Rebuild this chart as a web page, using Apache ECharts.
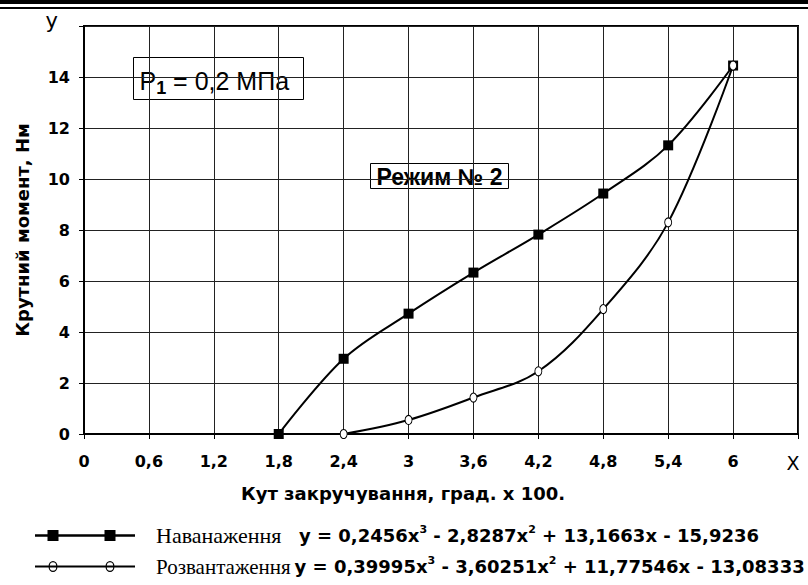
<!DOCTYPE html>
<html>
<head>
<meta charset="utf-8">
<script src="https://cdn.jsdelivr.net/npm/echarts@6/dist/echarts.min.js"></script>
<style>
html,body{margin:0;padding:0;background:#fff;}
#c{width:808px;height:585px;}
</style>
</head>
<body>
<div id="c"></div>
<script>
// ---- data ----
const xLoad = [1.8, 2.4, 3.0, 3.6, 4.2, 4.8, 5.4, 6.0];
const yLoad = [0, 2.95, 4.72, 6.33, 7.82, 9.43, 11.32, 14.45];
const xUnload = [2.4, 3.0, 3.6, 4.2, 4.8, 5.4, 6.0];
const yUnload = [0, 0.55, 1.43, 2.46, 4.9, 8.3, 14.45];
const seriesNames = ['Наванаження', 'Розвантаження'];
const eqLoad = ['y = 0,2456x', '3', ' - 2,8287x', '2', ' + 13,1663x - 15,9236'];
const eqUnload = ['y = 0,39995x', '3', ' - 3,60251x', '2', ' + 11,77546x - 13,08333'];
const xTicks = [0, 0.6, 1.2, 1.8, 2.4, 3, 3.6, 4.2, 4.8, 5.4, 6, 6.6];
const yTicks = [0, 2, 4, 6, 8, 10, 12, 14, 16];
const xAxisTitle = 'Кут закручування, град. х 100.';
const yAxisTitle = 'Крутний момент, Нм';
const noteP = ['P', '1', '= 0,2 МПа'];
const noteMode = 'Режим № 2';

const pair = (xs, ys) => xs.map((x, i) => [x, ys[i]]);
const eqRich = e => `{e|${e[0]}}{s|${e[1]}}{e|${e[2]}}{s|${e[3]}}{e|${e[4]}}`;

// legend icons: line with two markers
const iconLoad = 'path://M0 4.8L100 4.8L100 7.2L0 7.2Z M12.5 0.5L23.5 0.5L23.5 11.5L12.5 11.5Z M69.5 0.5L80.5 0.5L80.5 11.5L69.5 11.5Z';
const ring = cx => `M${cx + 4.5} 6A4.5 5.5 0 1 1 ${cx - 4.5} 6A4.5 5.5 0 1 1 ${cx + 4.5} 6Z M${cx + 3.3} 6A3.3 4.3 0 1 0 ${cx - 3.3} 6A3.3 4.3 0 1 0 ${cx + 3.3} 6Z`;
const iconUnload = 'path://M0 5L100 5L100 7L0 7Z ' + ring(18) + ' ' + ring(75);

const chart = echarts.init(document.getElementById('c'), null, {renderer: 'svg'});
const tickFont = {fontFamily: 'DejaVu Sans', fontWeight: 'bold', fontSize: 16, color: '#000'};

const legendRich = {
  n1: {fontFamily: 'Liberation Serif', fontSize: 22, color: '#000', width: 143, padding: [0, 0, 0, 16]},
  n2: {fontFamily: 'Liberation Serif', fontSize: 21, color: '#000', padding: [0, 4, 0, 16]},
  e: {fontFamily: 'DejaVu Sans', fontWeight: 'bold', fontSize: 18, color: '#000'},
  s: {fontFamily: 'DejaVu Sans', fontWeight: 'bold', fontSize: 11, color: '#000', padding: [0, 0, 12, 0]}
};
const mkLegend = (idx, top, icon, eq) => ({
  orient: 'horizontal', left: 30, top: top,
  itemWidth: 100, itemHeight: 11, icon: icon,
  itemStyle: {color: '#000', borderWidth: 0},
  data: [seriesNames[idx]],
  formatter: n => `{n${idx + 1}|${n}}` + eqRich(eq),
  textStyle: {rich: legendRich}
});

chart.setOption({
  backgroundColor: '#fff',
  animation: false,
  grid: {left: 84, right: 10, top: 26, bottom: 151, show: true, borderColor: '#000', borderWidth: 2},
  xAxis: {
    type: 'value', min: 0, max: 6.6, interval: 0.6,
    axisLine: {show: true, onZero: false, lineStyle: {color: '#000', width: 2}},
    axisTick: {show: true, length: 5, lineStyle: {color: '#000', width: 1}},
    splitLine: {show: true, lineStyle: {color: '#222', width: 1}},
    axisLabel: Object.assign({
      margin: 19,
      formatter: v => Math.abs(v - 6.6) < 1e-6 ? '{b|X}' : String(+v.toFixed(1)).replace('.', ','),
      rich: {b: {fontFamily: 'DejaVu Sans', fontSize: 19, fontWeight: 'normal', color: '#000', padding: [0, 10, 0, 0]}}
    }, tickFont),
    name: xAxisTitle, nameLocation: 'middle', nameGap: 50,
    nameTextStyle: {fontFamily: 'DejaVu Sans', fontWeight: 'bold', fontSize: 18, color: '#000', padding: [0, 76, 0, 0]}
  },
  yAxis: {
    type: 'value', min: 0, max: 16, interval: 2,
    axisLine: {show: true, onZero: false, lineStyle: {color: '#000', width: 2}},
    axisTick: {show: true, length: 5, lineStyle: {color: '#000', width: 1}},
    splitLine: {show: true, lineStyle: {color: '#222', width: 1}},
    axisLabel: Object.assign({
      margin: 14,
      formatter: v => v === 16 ? '{b|y}' : String(v),
      rich: {b: {fontFamily: 'DejaVu Sans', fontSize: 21, fontWeight: 'normal', color: '#000', padding: [0, 12, 10, 0]}}
    }, tickFont),
    name: yAxisTitle, nameLocation: 'middle', nameGap: 53, nameRotate: 90,
    nameTextStyle: {fontFamily: 'DejaVu Sans', fontWeight: 'bold', fontSize: 18, color: '#000'}
  },
  legend: [
    mkLegend(0, 519, iconLoad, eqLoad),
    mkLegend(1, 550, iconUnload, eqUnload)
  ],
  graphic: [
    {type: 'rect', left: 0, top: 0, shape: {width: 808, height: 4}, style: {fill: '#000'}},
    {type: 'rect', left: 0, top: 7, shape: {width: 808, height: 2}, style: {fill: '#000'}},
    {type: 'group', left: 133, top: 57, z: 100, children: [
      {type: 'rect', shape: {x: 0, y: 0, width: 170, height: 42}, style: {fill: '#fff', stroke: '#000', lineWidth: 1}},
      {type: 'text', x: 6, y: 23, style: {
        text: `{a|${noteP[0]}}{s|${noteP[1]}}{a| ${noteP[2]}}`,
        verticalAlign: 'middle',
        rich: {
          a: {fontFamily: 'Liberation Sans', fontSize: 25, color: '#000'},
          s: {fontFamily: 'Liberation Sans', fontWeight: 'bold', fontSize: 18, color: '#000', padding: [14, 0, 0, 0]}
        }
      }}
    ]},
    {type: 'group', left: 370, top: 163, z: 100, children: [
      {type: 'rect', shape: {x: 0, y: 0, width: 138, height: 25}, style: {fill: '#fff', stroke: '#000', lineWidth: 1}},
      {type: 'text', x: 69, y: 13, style: {
        text: noteMode, fontFamily: 'Liberation Sans', fontWeight: 'bold', fontSize: 23, fill: '#000',
        align: 'center', verticalAlign: 'middle'
      }}
    ]}
  ],
  series: [
    {
      name: seriesNames[0], type: 'line', smooth: 0.35, data: pair(xLoad, yLoad),
      symbol: 'rect', symbolSize: 10,
      itemStyle: {color: '#000'},
      lineStyle: {color: '#000', width: 2}, z: 3
    },
    {
      name: seriesNames[1], type: 'line', smooth: 0.35, data: pair(xUnload, yUnload),
      symbol: 'circle', symbolSize: [7, 9],
      itemStyle: {color: '#fff', borderColor: '#000', borderWidth: 1},
      lineStyle: {color: '#000', width: 2}, z: 4
    }
  ]
});
</script>
</body>
</html>
